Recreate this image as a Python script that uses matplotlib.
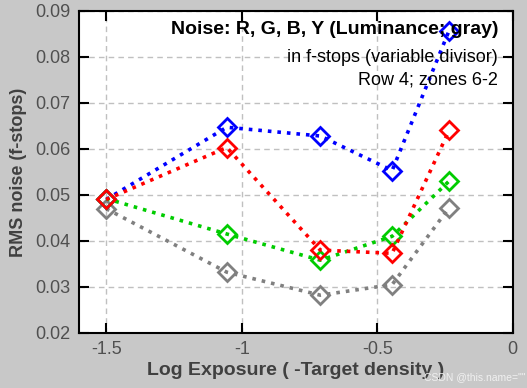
import matplotlib.pyplot as plt

plt.rcParams['font.family'] = ['Liberation Sans', 'DejaVu Sans']

# log exposure of each zone
log_exp = [-1.5, -1.055, -0.71, -0.445, -0.235]

# RMS noise in f-stops
noise_r = [0.0490, 0.0603, 0.0380, 0.0373, 0.0640]
noise_g = [0.0492, 0.0415, 0.0358, 0.0410, 0.0530]
noise_b = [0.0490, 0.0647, 0.0628, 0.0553, 0.0857]
noise_y = [0.0470, 0.0332, 0.0282, 0.0305, 0.0472]

series = [
    (noise_r, '#ff0000'),
    (noise_g, '#00cc00'),
    (noise_b, '#0000ff'),
    (noise_y, '#808080'),
]

xticks = [-1.5, -1, -0.5, 0]
xtick_labels = ['-1.5', '-1', '-0.5', '0']
yticks = [0.02, 0.03, 0.04, 0.05, 0.06, 0.07, 0.08, 0.09]

bg = '#c8c8c8'
fig = plt.figure(figsize=(5.27, 3.88), dpi=100, facecolor=bg)
ax = fig.add_axes([0.150, 0.142, 0.823, 0.830])

for vals, col in series[::-1]:
    ax.plot(log_exp, vals, linestyle=':', color=col, lw=2.6,
            marker='D', markersize=9.5, markerfacecolor='none',
            markeredgecolor=col, markeredgewidth=2)

ax.set_xlim(-1.6, 0)
ax.set_ylim(0.02, 0.09)
ax.set_xticks(xticks)
ax.set_xticklabels(xtick_labels)
ax.set_yticks(yticks)
ax.set_yticklabels(['%.2f' % v for v in yticks])

ax.grid(True, linestyle=(0, (4, 3)), color='#c0c0c0', lw=1)
ax.tick_params(direction='in', length=7, width=1.5, top=True, right=True,
               labelsize=13, labelcolor='#505050', pad=6)
for s in ax.spines.values():
    s.set_linewidth(1.5)

ax.set_xlabel('Log Exposure ( -Target density )', fontsize=14,
              fontweight='bold', color='#404040', labelpad=3)
ax.set_ylabel('RMS noise (f-stops)', fontsize=13, fontweight='bold',
              color='#404040', labelpad=6)

ax.text(0.966, 0.941, 'Noise: R, G, B, Y (Luminance; gray)',
        transform=ax.transAxes, ha='right', va='center', fontsize=14,
        fontweight='bold', color='black')
ax.text(0.966, 0.854, 'in f-stops (variable divisor)', transform=ax.transAxes,
        ha='right', va='center', fontsize=13, color='black')
ax.text(0.966, 0.786, 'Row 4; zones 6-2', transform=ax.transAxes,
        ha='right', va='center', fontsize=13, color='black')

fig.text(0.998, 0.015, 'CSDN @this.name=""', ha='right', va='bottom',
         fontsize=7.5, color='#f0f0f0')

fig.savefig('out.png', dpi=100, facecolor=bg)
